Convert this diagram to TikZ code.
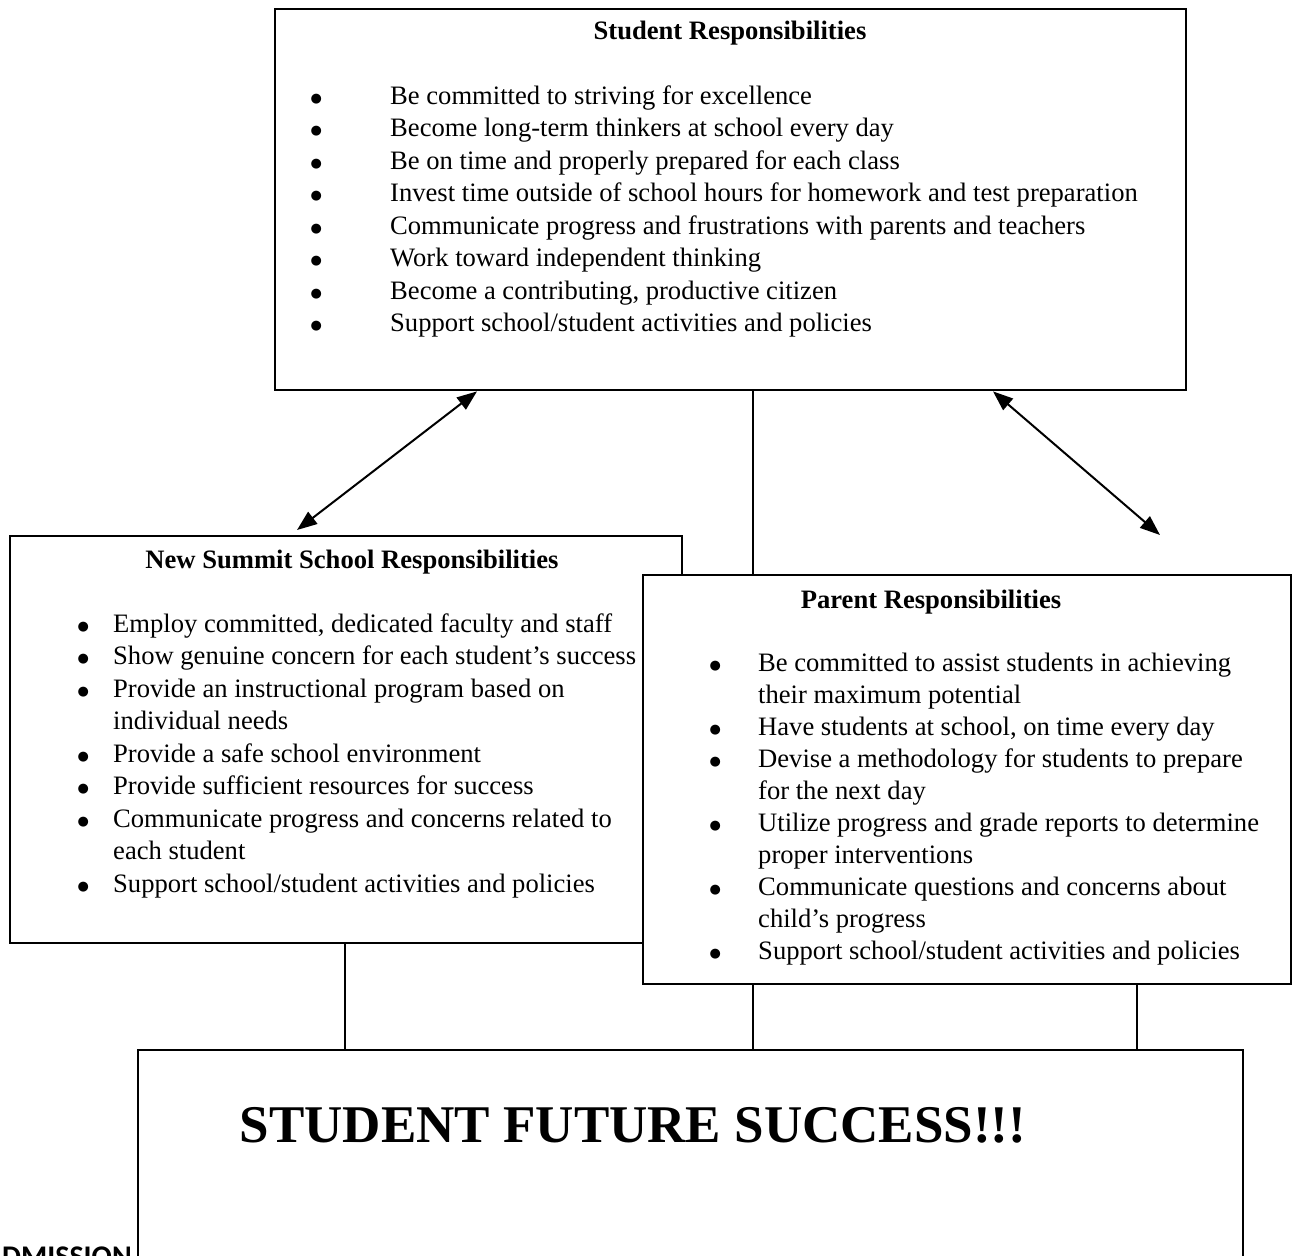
\documentclass[tikz,border=0pt]{standalone}
\usepackage{fontspec}
\setmainfont{Liberation Serif}
\newfontfamily\dejavu{DejaVu Sans}
\newfontfamily\carlito{Carlito}
\usetikzlibrary{arrows.meta}
\newcommand\blt{\raisebox{2pt}{\dejavu\fontsize{13}{13}\selectfont ●}}
\newcommand\bitem[2]{\makebox[#1pt]{\blt}#2}
\newcommand\citem[2]{\hspace*{#1pt}#2}
\newcommand\fstrut{\rule{0pt}{24pt}}
\begin{document}
\begin{tikzpicture}[x=1pt,y=-1pt,
  box/.style={draw, line width=2.4pt, fill=white, inner sep=0pt, anchor=north west},
  ttl/.style={font=\fontsize{26.6}{32.5}\selectfont\bfseries, inner sep=0pt},
  lst/.style={font=\fontsize{26.6}{32.5}\selectfont, align=left, inner sep=0pt, anchor=north west},
  conn/.style={line width=2pt},
  dbl/.style={line width=2pt, {Triangle[length=20pt,width=15pt]}-{Triangle[length=20pt,width=15pt]}}]

\useasboundingbox (0,0) rectangle (1297,1255);
\clip (0,0) rectangle (1297,1255);
\fill[white] (0,0) rectangle (1297,1255);

% Student box
\node[box, minimum width=911pt, minimum height=381pt] (stu) at (274,8) {};
\node[ttl] (stutitle) at (730,33) {Student Responsibilities};
\node[lst] (stulist) at (242,80) {\fstrut\bitem{148}{Be committed to striving for excellence}\\
\bitem{148}{Become long-term thinkers at school every day}\\
\bitem{148}{Be on time and properly prepared for each class}\\
\bitem{148}{Invest time outside of school hours for homework and test preparation}\\
\bitem{148}{Communicate progress and frustrations with parents and teachers}\\
\bitem{148}{Work toward independent thinking}\\
\bitem{148}{Become a contributing, productive citizen}\\
\bitem{148}{Support school/student activities and policies}};

% School box
\node[box, minimum width=672pt, minimum height=407pt] (sch) at (9,535) {};
\node[ttl] (schtitle) at (352,562) {New Summit School Responsibilities};
\node[lst] (schlist) at (53,608) {\fstrut\bitem{60}{Employ committed, dedicated faculty and staff}\\
\bitem{60}{Show genuine concern for each student’s success}\\
\bitem{60}{Provide an instructional program based on}\\
\citem{60}{individual needs}\\
\bitem{60}{Provide a safe school environment}\\
\bitem{60}{Provide sufficient resources for success}\\
\bitem{60}{Communicate progress and concerns related to}\\
\citem{60}{each student}\\
\bitem{60}{Support school/student activities and policies}};

% Parent box
\node[box, minimum width=648pt, minimum height=409pt] (par) at (642,574) {};
\node[ttl] (partitle) at (931,602) {Parent Responsibilities};
\node[lst, font=\fontsize{26.6}{32}\selectfont] (parlist) at (672,647) {\fstrut\bitem{86}{Be committed to assist students in achieving}\\
\citem{86}{their maximum potential}\\
\bitem{86}{Have students at school, on time every day}\\
\bitem{86}{Devise a methodology for students to prepare}\\
\citem{86}{for the next day}\\
\bitem{86}{Utilize progress and grade reports to determine}\\
\citem{86}{proper interventions}\\
\bitem{86}{Communicate questions and concerns about}\\
\citem{86}{child’s progress}\\
\bitem{86}{Support school/student activities and policies}};

% Final box
\node[box, minimum width=1105pt, minimum height=320pt] (fin) at (137,1049) {};
\node[font=\fontsize{53}{60}\selectfont\bfseries, inner sep=0pt] (fintitle) at (633,1125) {STUDENT FUTURE SUCCESS!!!};

% cut-off text at bottom left
\node[font=\carlito\bfseries\fontsize{30}{30}\selectfont, inner sep=0pt, anchor=base west] (adm) at (2,1266) {DMISSION};

% connectors
\coordinate (a1) at (297,530);
\coordinate (a2) at (1160,535);
\draw[dbl] ([xshift=203pt]stu.south west) -- (a1);
\draw[dbl] ([xshift=719pt]stu.south west) -- (a2);
\draw[conn] ([xshift=479pt]stu.south west) -- ([xshift=111pt]par.north west);
\draw[conn] ([xshift=336pt]sch.south west) -- ([xshift=208pt]fin.north west);
\draw[conn] ([xshift=111pt]par.south west) -- ([xshift=616pt]fin.north west);
\draw[conn] ([xshift=495pt]par.south west) -- ([xshift=1000pt]fin.north west);
\end{tikzpicture}
\end{document}
